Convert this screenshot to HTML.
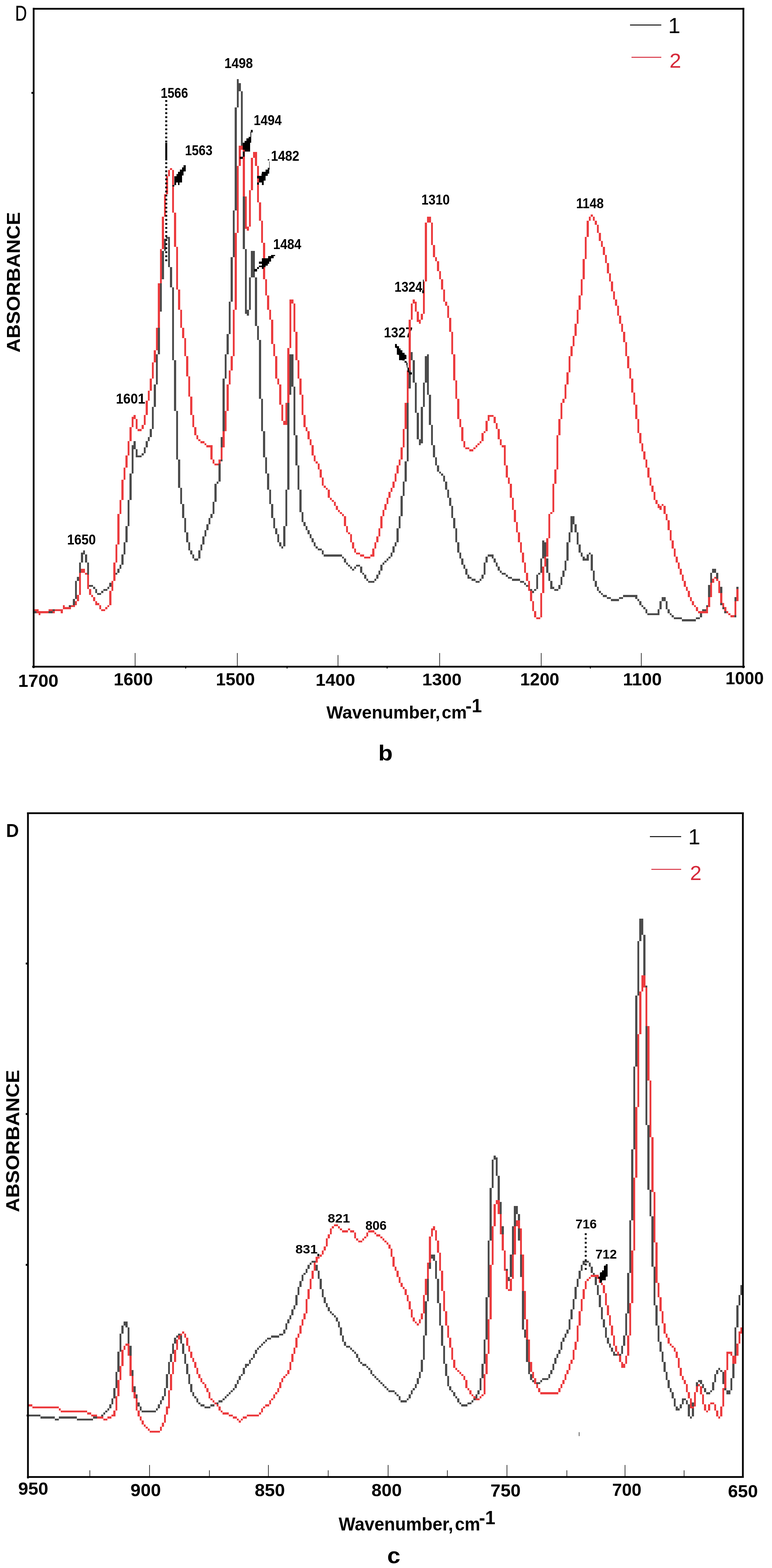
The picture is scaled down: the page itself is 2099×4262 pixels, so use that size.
<!DOCTYPE html>
<html lang="en">
<head>
<meta charset="utf-8">
<title>IR absorbance spectra</title>
<style>
html,body{margin:0;padding:0;background:#fff;}
body{width:2099px;height:4262px;overflow:hidden;}
svg{display:block;font-family:"Liberation Sans",sans-serif;}
</style>
</head>
<body>
<svg width="2099" height="4262" viewBox="0 0 2099 4262">
<rect x="0" y="0" width="2099" height="4262" fill="#fff"/>
<text transform="translate(182.41 1480.10) scale(0.8868 1)" font-size="39.58" font-weight="bold" fill="#000">1650</text>
<text transform="translate(315.16 1096.62) scale(0.9467 1)" font-size="37.88" font-weight="bold" fill="#000">1601</text>
<text transform="translate(436.91 265.61) scale(0.8596 1)" font-size="38.87" font-weight="bold" fill="#000">1566</text>
<text transform="translate(502.89 421.82) scale(0.8763 1)" font-size="38.45" font-weight="bold" fill="#000">1563</text>
<text transform="translate(610.33 185.42) scale(0.9172 1)" font-size="37.88" font-weight="bold" fill="#000">1498</text>
<text transform="translate(689.87 340.31) scale(0.8723 1)" font-size="39.15" font-weight="bold" fill="#000">1494</text>
<text transform="translate(736.63 436.61) scale(0.8921 1)" font-size="38.87" font-weight="bold" fill="#000">1482</text>
<text transform="translate(742.85 677.11) scale(0.8834 1)" font-size="38.87" font-weight="bold" fill="#000">1484</text>
<text transform="translate(1043.80 917.02) scale(0.9084 1)" font-size="38.73" font-weight="bold" fill="#000">1327</text>
<text transform="translate(1072.57 792.81) scale(0.8750 1)" font-size="38.87" font-weight="bold" fill="#000">1324</text>
<text transform="translate(1145.63 555.91) scale(0.8931 1)" font-size="38.87" font-weight="bold" fill="#000">1310</text>
<text transform="translate(1566.44 565.81) scale(0.8890 1)" font-size="38.87" font-weight="bold" fill="#000">1148</text>
<path d="M93.5 1661.0h5.5v5.5h-5.5zM99.0 1661.0h5.5v5.5h-5.5zM104.5 1661.0h5.5v5.5h-5.5zM110.0 1661.0h5.5v5.5h-5.5zM115.5 1661.0h5.5v5.5h-5.5zM121.0 1661.0h5.5v5.5h-5.5zM126.5 1661.0h5.5v5.5h-5.5zM132.0 1661.0h5.5v5.5h-5.5zM137.5 1661.0h5.5v5.5h-5.5zM143.0 1655.5h5.5v5.5h-5.5zM148.5 1655.5h5.5v5.5h-5.5zM154.0 1655.5h5.5v5.5h-5.5zM159.5 1655.5h5.5v5.5h-5.5zM165.0 1655.5h5.5v5.5h-5.5zM170.5 1650.0h5.5v5.5h-5.5zM176.0 1650.0h5.5v5.5h-5.5zM181.5 1650.0h5.5v5.5h-5.5zM187.0 1644.5h5.5v5.5h-5.5zM192.5 1644.5h5.5v5.5h-5.5zM198.0 1628.0h5.5v16.5h-5.5zM203.5 1578.5h5.5v49.5h-5.5zM209.0 1567.5h5.5v11.0h-5.5zM214.5 1529.0h5.5v38.5h-5.5zM220.0 1501.5h5.5v27.5h-5.5zM225.5 1496.0h5.5v11.0h-5.5zM231.0 1507.0h5.5v22.0h-5.5zM236.5 1529.0h5.5v60.5h-5.5zM242.0 1589.5h5.5v5.5h-5.5zM247.5 1589.5h5.5v5.5h-5.5zM253.0 1595.0h5.5v5.5h-5.5zM258.5 1600.5h5.5v11.0h-5.5zM264.0 1611.5h5.5v5.5h-5.5zM269.5 1611.5h5.5v5.5h-5.5zM275.0 1606.0h5.5v5.5h-5.5zM280.5 1600.5h5.5v5.5h-5.5zM286.0 1600.5h5.5v5.5h-5.5zM291.5 1595.0h5.5v5.5h-5.5zM297.0 1584.0h5.5v11.0h-5.5zM302.5 1578.5h5.5v5.5h-5.5zM308.0 1562.0h5.5v16.5h-5.5zM313.5 1556.5h5.5v5.5h-5.5zM319.0 1545.5h5.5v11.0h-5.5zM324.5 1534.5h5.5v11.0h-5.5zM330.0 1507.0h5.5v27.5h-5.5zM335.5 1474.0h5.5v33.0h-5.5zM341.0 1430.0h5.5v44.0h-5.5zM346.5 1358.5h5.5v71.5h-5.5zM352.0 1287.0h5.5v71.5h-5.5zM357.5 1210.0h5.5v77.0h-5.5zM363.0 1199.0h5.5v22.0h-5.5zM368.5 1221.0h5.5v22.0h-5.5zM374.0 1237.5h5.5v5.5h-5.5zM379.5 1237.5h5.5v5.5h-5.5zM385.0 1232.0h5.5v5.5h-5.5zM390.5 1215.5h5.5v16.5h-5.5zM396.0 1199.0h5.5v16.5h-5.5zM401.5 1188.0h5.5v11.0h-5.5zM407.0 1166.0h5.5v22.0h-5.5zM412.5 1105.5h5.5v60.5h-5.5zM418.0 1045.0h5.5v60.5h-5.5zM423.5 962.5h5.5v82.5h-5.5zM429.0 847.0h5.5v115.5h-5.5zM434.5 759.0h5.5v88.0h-5.5zM440.0 682.0h5.5v77.0h-5.5zM445.5 649.0h5.5v33.0h-5.5zM451.0 643.5h5.5v5.5h-5.5zM456.5 643.5h5.5v82.5h-5.5zM462.0 726.0h5.5v55.0h-5.5zM467.5 781.0h5.5v198.0h-5.5zM473.0 979.0h5.5v137.5h-5.5zM478.5 1116.5h5.5v132.0h-5.5zM484.0 1248.5h5.5v77.0h-5.5zM489.5 1325.5h5.5v44.0h-5.5zM495.0 1369.5h5.5v38.5h-5.5zM500.5 1408.0h5.5v38.5h-5.5zM506.0 1446.5h5.5v27.5h-5.5zM511.5 1474.0h5.5v22.0h-5.5zM517.0 1496.0h5.5v11.0h-5.5zM522.5 1507.0h5.5v11.0h-5.5zM528.0 1518.0h5.5v5.5h-5.5zM533.5 1518.0h5.5v5.5h-5.5zM539.0 1496.0h5.5v22.0h-5.5zM544.5 1479.5h5.5v16.5h-5.5zM550.0 1457.5h5.5v22.0h-5.5zM555.5 1441.0h5.5v16.5h-5.5zM561.0 1424.5h5.5v16.5h-5.5zM566.5 1408.0h5.5v16.5h-5.5zM572.0 1397.0h5.5v11.0h-5.5zM577.5 1364.0h5.5v33.0h-5.5zM583.0 1314.5h5.5v49.5h-5.5zM588.5 1309.0h5.5v5.5h-5.5zM594.0 1254.0h5.5v55.0h-5.5zM599.5 1188.0h5.5v66.0h-5.5zM605.0 1028.5h5.5v159.5h-5.5zM610.5 962.5h5.5v66.0h-5.5zM616.0 907.5h5.5v55.0h-5.5zM621.5 819.5h5.5v88.0h-5.5zM627.0 698.5h5.5v121.0h-5.5zM632.5 572.0h5.5v126.5h-5.5zM638.0 291.5h5.5v280.5h-5.5zM643.5 214.5h5.5v77.0h-5.5zM649.0 225.5h5.5v22.0h-5.5zM654.5 247.5h5.5v159.5h-5.5zM660.0 407.0h5.5v269.5h-5.5zM665.5 676.5h5.5v176.0h-5.5zM671.0 841.5h5.5v16.5h-5.5zM676.5 753.5h5.5v88.0h-5.5zM682.0 682.0h5.5v71.5h-5.5zM687.5 682.0h5.5v71.5h-5.5zM693.0 753.5h5.5v132.0h-5.5zM698.5 885.5h5.5v38.5h-5.5zM704.0 924.0h5.5v159.5h-5.5zM709.5 1083.5h5.5v88.0h-5.5zM715.0 1171.5h5.5v71.5h-5.5zM720.5 1243.0h5.5v44.0h-5.5zM726.0 1287.0h5.5v44.0h-5.5zM731.5 1331.0h5.5v38.5h-5.5zM737.0 1369.5h5.5v38.5h-5.5zM742.5 1408.0h5.5v27.5h-5.5zM748.0 1435.5h5.5v16.5h-5.5zM753.5 1452.0h5.5v22.0h-5.5zM759.0 1474.0h5.5v11.0h-5.5zM764.5 1485.0h5.5v5.5h-5.5zM770.0 1430.0h5.5v55.0h-5.5zM775.5 1331.0h5.5v99.0h-5.5zM781.0 1072.5h5.5v258.5h-5.5zM786.5 962.5h5.5v110.0h-5.5zM792.0 962.5h5.5v88.0h-5.5zM797.5 1050.5h5.5v132.0h-5.5zM803.0 1182.5h5.5v82.5h-5.5zM808.5 1265.0h5.5v66.0h-5.5zM814.0 1331.0h5.5v60.5h-5.5zM819.5 1391.5h5.5v27.5h-5.5zM825.0 1419.0h5.5v11.0h-5.5zM830.5 1430.0h5.5v11.0h-5.5zM836.0 1441.0h5.5v11.0h-5.5zM841.5 1452.0h5.5v11.0h-5.5zM847.0 1463.0h5.5v11.0h-5.5zM852.5 1474.0h5.5v11.0h-5.5zM858.0 1485.0h5.5v5.5h-5.5zM863.5 1490.5h5.5v5.5h-5.5zM869.0 1490.5h5.5v5.5h-5.5zM874.5 1496.0h5.5v11.0h-5.5zM880.0 1507.0h5.5v5.5h-5.5zM885.5 1507.0h5.5v5.5h-5.5zM891.0 1507.0h5.5v5.5h-5.5zM896.5 1507.0h5.5v5.5h-5.5zM902.0 1507.0h5.5v5.5h-5.5zM907.5 1507.0h5.5v5.5h-5.5zM913.0 1507.0h5.5v5.5h-5.5zM918.5 1507.0h5.5v5.5h-5.5zM924.0 1507.0h5.5v5.5h-5.5zM929.5 1512.5h5.5v5.5h-5.5zM935.0 1518.0h5.5v11.0h-5.5zM940.5 1529.0h5.5v5.5h-5.5zM946.0 1534.5h5.5v5.5h-5.5zM951.5 1540.0h5.5v5.5h-5.5zM957.0 1545.5h5.5v5.5h-5.5zM962.5 1540.0h5.5v5.5h-5.5zM968.0 1534.5h5.5v5.5h-5.5zM973.5 1534.5h5.5v5.5h-5.5zM979.0 1540.0h5.5v16.5h-5.5zM984.5 1556.5h5.5v5.5h-5.5zM990.0 1562.0h5.5v11.0h-5.5zM995.5 1573.0h5.5v5.5h-5.5zM1001.0 1578.5h5.5v5.5h-5.5zM1006.5 1578.5h5.5v5.5h-5.5zM1012.0 1578.5h5.5v5.5h-5.5zM1017.5 1573.0h5.5v5.5h-5.5zM1023.0 1562.0h5.5v11.0h-5.5zM1028.5 1551.0h5.5v11.0h-5.5zM1034.0 1534.5h5.5v16.5h-5.5zM1039.5 1529.0h5.5v5.5h-5.5zM1045.0 1523.5h5.5v5.5h-5.5zM1050.5 1518.0h5.5v5.5h-5.5zM1056.0 1512.5h5.5v5.5h-5.5zM1061.5 1501.5h5.5v11.0h-5.5zM1067.0 1485.0h5.5v16.5h-5.5zM1072.5 1474.0h5.5v11.0h-5.5zM1078.0 1435.5h5.5v38.5h-5.5zM1083.5 1402.5h5.5v33.0h-5.5zM1089.0 1347.5h5.5v55.0h-5.5zM1094.5 1309.0h5.5v38.5h-5.5zM1100.0 1254.0h5.5v55.0h-5.5zM1105.5 1056.0h5.5v198.0h-5.5zM1111.0 962.5h5.5v93.5h-5.5zM1116.5 957.0h5.5v22.0h-5.5zM1122.0 979.0h5.5v60.5h-5.5zM1127.5 1039.5h5.5v82.5h-5.5zM1133.0 1122.0h5.5v71.5h-5.5zM1138.5 1193.5h5.5v16.5h-5.5zM1144.0 1105.5h5.5v99.0h-5.5zM1149.5 1039.5h5.5v66.0h-5.5zM1155.0 968.0h5.5v71.5h-5.5zM1160.5 962.5h5.5v110.0h-5.5zM1166.0 1072.5h5.5v82.5h-5.5zM1171.5 1155.0h5.5v55.0h-5.5zM1177.0 1210.0h5.5v33.0h-5.5zM1182.5 1243.0h5.5v22.0h-5.5zM1188.0 1265.0h5.5v16.5h-5.5zM1193.5 1281.5h5.5v5.5h-5.5zM1199.0 1287.0h5.5v5.5h-5.5zM1204.5 1292.5h5.5v16.5h-5.5zM1210.0 1309.0h5.5v22.0h-5.5zM1215.5 1331.0h5.5v22.0h-5.5zM1221.0 1353.0h5.5v22.0h-5.5zM1226.5 1375.0h5.5v33.0h-5.5zM1232.0 1408.0h5.5v27.5h-5.5zM1237.5 1435.5h5.5v38.5h-5.5zM1243.0 1474.0h5.5v27.5h-5.5zM1248.5 1501.5h5.5v16.5h-5.5zM1254.0 1518.0h5.5v16.5h-5.5zM1259.5 1534.5h5.5v11.0h-5.5zM1265.0 1545.5h5.5v16.5h-5.5zM1270.5 1562.0h5.5v11.0h-5.5zM1276.0 1567.5h5.5v5.5h-5.5zM1281.5 1573.0h5.5v5.5h-5.5zM1287.0 1573.0h5.5v5.5h-5.5zM1292.5 1578.5h5.5v5.5h-5.5zM1298.0 1578.5h5.5v5.5h-5.5zM1303.5 1573.0h5.5v5.5h-5.5zM1309.0 1562.0h5.5v11.0h-5.5zM1314.5 1529.0h5.5v33.0h-5.5zM1320.0 1512.5h5.5v16.5h-5.5zM1325.5 1507.0h5.5v5.5h-5.5zM1331.0 1507.0h5.5v5.5h-5.5zM1336.5 1507.0h5.5v11.0h-5.5zM1342.0 1518.0h5.5v11.0h-5.5zM1347.5 1529.0h5.5v11.0h-5.5zM1353.0 1540.0h5.5v11.0h-5.5zM1358.5 1551.0h5.5v5.5h-5.5zM1364.0 1556.5h5.5v5.5h-5.5zM1369.5 1556.5h5.5v5.5h-5.5zM1375.0 1562.0h5.5v5.5h-5.5zM1380.5 1567.5h5.5v5.5h-5.5zM1386.0 1567.5h5.5v5.5h-5.5zM1391.5 1573.0h5.5v5.5h-5.5zM1397.0 1573.0h5.5v5.5h-5.5zM1402.5 1573.0h5.5v5.5h-5.5zM1408.0 1573.0h5.5v5.5h-5.5zM1413.5 1578.5h5.5v5.5h-5.5zM1419.0 1578.5h5.5v5.5h-5.5zM1424.5 1584.0h5.5v5.5h-5.5zM1430.0 1589.5h5.5v5.5h-5.5zM1435.5 1595.0h5.5v5.5h-5.5zM1441.0 1600.5h5.5v5.5h-5.5zM1446.5 1606.0h5.5v5.5h-5.5zM1452.0 1600.5h5.5v5.5h-5.5zM1457.5 1562.0h5.5v38.5h-5.5zM1463.0 1556.5h5.5v5.5h-5.5zM1468.5 1518.0h5.5v38.5h-5.5zM1474.0 1468.5h5.5v49.5h-5.5zM1479.5 1474.0h5.5v44.0h-5.5zM1485.0 1518.0h5.5v38.5h-5.5zM1490.5 1556.5h5.5v22.0h-5.5zM1496.0 1578.5h5.5v22.0h-5.5zM1501.5 1595.0h5.5v5.5h-5.5zM1507.0 1600.5h5.5v5.5h-5.5zM1512.5 1600.5h5.5v5.5h-5.5zM1518.0 1589.5h5.5v11.0h-5.5zM1523.5 1567.5h5.5v22.0h-5.5zM1529.0 1551.0h5.5v16.5h-5.5zM1534.5 1523.5h5.5v27.5h-5.5zM1540.0 1474.0h5.5v49.5h-5.5zM1545.5 1446.5h5.5v27.5h-5.5zM1551.0 1402.5h5.5v44.0h-5.5zM1556.5 1402.5h5.5v22.0h-5.5zM1562.0 1424.5h5.5v22.0h-5.5zM1567.5 1446.5h5.5v33.0h-5.5zM1573.0 1479.5h5.5v22.0h-5.5zM1578.5 1501.5h5.5v11.0h-5.5zM1584.0 1512.5h5.5v11.0h-5.5zM1589.5 1518.0h5.5v5.5h-5.5zM1595.0 1507.0h5.5v16.5h-5.5zM1600.5 1501.5h5.5v5.5h-5.5zM1606.0 1507.0h5.5v44.0h-5.5zM1611.5 1551.0h5.5v27.5h-5.5zM1617.0 1578.5h5.5v16.5h-5.5zM1622.5 1595.0h5.5v11.0h-5.5zM1628.0 1606.0h5.5v5.5h-5.5zM1633.5 1611.5h5.5v5.5h-5.5zM1639.0 1617.0h5.5v5.5h-5.5zM1644.5 1617.0h5.5v5.5h-5.5zM1650.0 1622.5h5.5v5.5h-5.5zM1655.5 1622.5h5.5v5.5h-5.5zM1661.0 1628.0h5.5v5.5h-5.5zM1666.5 1628.0h5.5v5.5h-5.5zM1672.0 1628.0h5.5v5.5h-5.5zM1677.5 1628.0h5.5v5.5h-5.5zM1683.0 1622.5h5.5v5.5h-5.5zM1688.5 1622.5h5.5v5.5h-5.5zM1694.0 1617.0h5.5v5.5h-5.5zM1699.5 1617.0h5.5v5.5h-5.5zM1705.0 1617.0h5.5v5.5h-5.5zM1710.5 1617.0h5.5v5.5h-5.5zM1716.0 1617.0h5.5v5.5h-5.5zM1721.5 1617.0h5.5v5.5h-5.5zM1727.0 1617.0h5.5v11.0h-5.5zM1732.5 1628.0h5.5v5.5h-5.5zM1738.0 1633.5h5.5v11.0h-5.5zM1743.5 1644.5h5.5v5.5h-5.5zM1749.0 1650.0h5.5v5.5h-5.5zM1754.5 1655.5h5.5v11.0h-5.5zM1760.0 1666.5h5.5v5.5h-5.5zM1765.5 1666.5h5.5v5.5h-5.5zM1771.0 1666.5h5.5v5.5h-5.5zM1776.5 1666.5h5.5v5.5h-5.5zM1782.0 1666.5h5.5v5.5h-5.5zM1787.5 1655.5h5.5v16.5h-5.5zM1793.0 1633.5h5.5v22.0h-5.5zM1798.5 1622.5h5.5v11.0h-5.5zM1804.0 1622.5h5.5v11.0h-5.5zM1809.5 1633.5h5.5v22.0h-5.5zM1815.0 1655.5h5.5v11.0h-5.5zM1820.5 1666.5h5.5v5.5h-5.5zM1826.0 1672.0h5.5v5.5h-5.5zM1831.5 1677.5h5.5v5.5h-5.5zM1837.0 1677.5h5.5v5.5h-5.5zM1842.5 1677.5h5.5v5.5h-5.5zM1848.0 1677.5h5.5v5.5h-5.5zM1853.5 1683.0h5.5v5.5h-5.5zM1859.0 1683.0h5.5v5.5h-5.5zM1864.5 1683.0h5.5v5.5h-5.5zM1870.0 1683.0h5.5v5.5h-5.5zM1875.5 1683.0h5.5v5.5h-5.5zM1881.0 1683.0h5.5v5.5h-5.5zM1886.5 1683.0h5.5v5.5h-5.5zM1892.0 1677.5h5.5v5.5h-5.5zM1897.5 1677.5h5.5v5.5h-5.5zM1903.0 1661.0h5.5v16.5h-5.5zM1908.5 1655.5h5.5v5.5h-5.5zM1914.0 1655.5h5.5v5.5h-5.5zM1919.5 1644.5h5.5v11.0h-5.5zM1925.0 1589.5h5.5v55.0h-5.5zM1930.5 1556.5h5.5v33.0h-5.5zM1936.0 1545.5h5.5v11.0h-5.5zM1941.5 1545.5h5.5v11.0h-5.5zM1947.0 1556.5h5.5v22.0h-5.5zM1952.5 1578.5h5.5v16.5h-5.5zM1958.0 1595.0h5.5v49.5h-5.5zM1963.5 1644.5h5.5v11.0h-5.5zM1969.0 1655.5h5.5v11.0h-5.5zM1974.5 1661.0h5.5v5.5h-5.5zM1980.0 1666.5h5.5v5.5h-5.5zM1985.5 1672.0h5.5v5.5h-5.5zM1991.0 1672.0h5.5v5.5h-5.5zM1996.5 1622.5h5.5v55.0h-5.5zM2002.0 1595.0h5.5v27.5h-5.5z" fill="#4b4b4b" shape-rendering="crispEdges"/>
<path d="M93.5 1655.5h5.5v5.5h-5.5zM99.0 1655.5h5.5v11.0h-5.5zM104.5 1661.0h5.5v11.0h-5.5zM110.0 1661.0h5.5v5.5h-5.5zM115.5 1661.0h5.5v5.5h-5.5zM121.0 1661.0h5.5v5.5h-5.5zM126.5 1661.0h5.5v5.5h-5.5zM132.0 1655.5h5.5v5.5h-5.5zM137.5 1655.5h5.5v5.5h-5.5zM143.0 1661.0h5.5v5.5h-5.5zM148.5 1655.5h5.5v5.5h-5.5zM154.0 1655.5h5.5v5.5h-5.5zM159.5 1655.5h5.5v5.5h-5.5zM165.0 1655.5h5.5v11.0h-5.5zM170.5 1644.5h5.5v11.0h-5.5zM176.0 1650.0h5.5v5.5h-5.5zM181.5 1650.0h5.5v5.5h-5.5zM187.0 1650.0h5.5v5.5h-5.5zM192.5 1644.5h5.5v5.5h-5.5zM198.0 1644.5h5.5v5.5h-5.5zM203.5 1633.5h5.5v11.0h-5.5zM209.0 1617.0h5.5v16.5h-5.5zM214.5 1556.5h5.5v60.5h-5.5zM220.0 1545.5h5.5v11.0h-5.5zM225.5 1545.5h5.5v11.0h-5.5zM231.0 1556.5h5.5v5.5h-5.5zM236.5 1562.0h5.5v38.5h-5.5zM242.0 1600.5h5.5v16.5h-5.5zM247.5 1617.0h5.5v5.5h-5.5zM253.0 1622.5h5.5v11.0h-5.5zM258.5 1633.5h5.5v11.0h-5.5zM264.0 1639.0h5.5v5.5h-5.5zM269.5 1644.5h5.5v11.0h-5.5zM275.0 1655.5h5.5v5.5h-5.5zM280.5 1655.5h5.5v5.5h-5.5zM286.0 1650.0h5.5v5.5h-5.5zM291.5 1644.5h5.5v5.5h-5.5zM297.0 1606.0h5.5v38.5h-5.5zM302.5 1578.5h5.5v27.5h-5.5zM308.0 1529.0h5.5v49.5h-5.5zM313.5 1479.5h5.5v49.5h-5.5zM319.0 1397.0h5.5v82.5h-5.5zM324.5 1358.5h5.5v38.5h-5.5zM330.0 1303.5h5.5v55.0h-5.5zM335.5 1270.5h5.5v33.0h-5.5zM341.0 1237.5h5.5v33.0h-5.5zM346.5 1199.0h5.5v38.5h-5.5zM352.0 1160.5h5.5v38.5h-5.5zM357.5 1133.0h5.5v27.5h-5.5zM363.0 1127.5h5.5v11.0h-5.5zM368.5 1138.5h5.5v27.5h-5.5zM374.0 1166.0h5.5v5.5h-5.5zM379.5 1166.0h5.5v5.5h-5.5zM385.0 1155.0h5.5v11.0h-5.5zM390.5 1127.5h5.5v27.5h-5.5zM396.0 1089.0h5.5v38.5h-5.5zM401.5 1061.5h5.5v27.5h-5.5zM407.0 1028.5h5.5v33.0h-5.5zM412.5 984.5h5.5v44.0h-5.5zM418.0 951.5h5.5v33.0h-5.5zM423.5 891.0h5.5v60.5h-5.5zM429.0 770.0h5.5v121.0h-5.5zM434.5 676.5h5.5v93.5h-5.5zM440.0 588.5h5.5v88.0h-5.5zM445.5 528.0h5.5v60.5h-5.5zM451.0 478.5h5.5v49.5h-5.5zM456.5 462.0h5.5v16.5h-5.5zM462.0 456.5h5.5v5.5h-5.5zM467.5 462.0h5.5v115.5h-5.5zM473.0 577.5h5.5v93.5h-5.5zM478.5 671.0h5.5v115.5h-5.5zM484.0 786.5h5.5v55.0h-5.5zM489.5 841.5h5.5v49.5h-5.5zM495.0 891.0h5.5v27.5h-5.5zM500.5 918.5h5.5v49.5h-5.5zM506.0 968.0h5.5v55.0h-5.5zM511.5 1023.0h5.5v55.0h-5.5zM517.0 1078.0h5.5v49.5h-5.5zM522.5 1127.5h5.5v33.0h-5.5zM528.0 1160.5h5.5v22.0h-5.5zM533.5 1182.5h5.5v11.0h-5.5zM539.0 1193.5h5.5v5.5h-5.5zM544.5 1199.0h5.5v5.5h-5.5zM550.0 1199.0h5.5v5.5h-5.5zM555.5 1204.5h5.5v5.5h-5.5zM561.0 1210.0h5.5v5.5h-5.5zM566.5 1210.0h5.5v5.5h-5.5zM572.0 1210.0h5.5v38.5h-5.5zM577.5 1248.5h5.5v11.0h-5.5zM583.0 1259.5h5.5v5.5h-5.5zM588.5 1259.5h5.5v5.5h-5.5zM594.0 1248.5h5.5v11.0h-5.5zM599.5 1215.5h5.5v33.0h-5.5zM605.0 1171.5h5.5v44.0h-5.5zM610.5 1116.5h5.5v55.0h-5.5zM616.0 1045.0h5.5v71.5h-5.5zM621.5 1006.5h5.5v38.5h-5.5zM627.0 968.0h5.5v38.5h-5.5zM632.5 841.5h5.5v126.5h-5.5zM638.0 632.5h5.5v209.0h-5.5zM643.5 451.0h5.5v181.5h-5.5zM649.0 396.0h5.5v55.0h-5.5zM654.5 396.0h5.5v11.0h-5.5zM660.0 407.0h5.5v126.5h-5.5zM665.5 533.5h5.5v88.0h-5.5zM671.0 616.0h5.5v11.0h-5.5zM676.5 517.0h5.5v99.0h-5.5zM682.0 429.0h5.5v88.0h-5.5zM687.5 412.5h5.5v16.5h-5.5zM693.0 412.5h5.5v38.5h-5.5zM698.5 451.0h5.5v99.0h-5.5zM704.0 550.0h5.5v49.5h-5.5zM709.5 599.5h5.5v60.5h-5.5zM715.0 660.0h5.5v99.0h-5.5zM720.5 759.0h5.5v44.0h-5.5zM726.0 803.0h5.5v38.5h-5.5zM731.5 841.5h5.5v27.5h-5.5zM737.0 869.0h5.5v66.0h-5.5zM742.5 935.0h5.5v33.0h-5.5zM748.0 968.0h5.5v60.5h-5.5zM753.5 1028.5h5.5v16.5h-5.5zM759.0 1045.0h5.5v55.0h-5.5zM764.5 1100.0h5.5v44.0h-5.5zM770.0 1144.0h5.5v11.0h-5.5zM775.5 1094.5h5.5v60.5h-5.5zM781.0 946.0h5.5v148.5h-5.5zM786.5 814.0h5.5v132.0h-5.5zM792.0 814.0h5.5v11.0h-5.5zM797.5 825.0h5.5v77.0h-5.5zM803.0 902.0h5.5v77.0h-5.5zM808.5 979.0h5.5v49.5h-5.5zM814.0 1028.5h5.5v44.0h-5.5zM819.5 1072.5h5.5v55.0h-5.5zM825.0 1127.5h5.5v33.0h-5.5zM830.5 1160.5h5.5v11.0h-5.5zM836.0 1171.5h5.5v22.0h-5.5zM841.5 1193.5h5.5v16.5h-5.5zM847.0 1210.0h5.5v27.5h-5.5zM852.5 1237.5h5.5v16.5h-5.5zM858.0 1254.0h5.5v5.5h-5.5zM863.5 1259.5h5.5v16.5h-5.5zM869.0 1276.0h5.5v22.0h-5.5zM874.5 1298.0h5.5v22.0h-5.5zM880.0 1320.0h5.5v5.5h-5.5zM885.5 1325.5h5.5v5.5h-5.5zM891.0 1331.0h5.5v22.0h-5.5zM896.5 1353.0h5.5v5.5h-5.5zM902.0 1358.5h5.5v5.5h-5.5zM907.5 1364.0h5.5v11.0h-5.5zM913.0 1375.0h5.5v11.0h-5.5zM918.5 1386.0h5.5v5.5h-5.5zM924.0 1391.5h5.5v5.5h-5.5zM929.5 1397.0h5.5v5.5h-5.5zM935.0 1402.5h5.5v27.5h-5.5zM940.5 1430.0h5.5v16.5h-5.5zM946.0 1446.5h5.5v5.5h-5.5zM951.5 1452.0h5.5v22.0h-5.5zM957.0 1474.0h5.5v16.5h-5.5zM962.5 1490.5h5.5v11.0h-5.5zM968.0 1501.5h5.5v5.5h-5.5zM973.5 1501.5h5.5v5.5h-5.5zM979.0 1507.0h5.5v5.5h-5.5zM984.5 1507.0h5.5v5.5h-5.5zM990.0 1512.5h5.5v5.5h-5.5zM995.5 1512.5h5.5v5.5h-5.5zM1001.0 1512.5h5.5v5.5h-5.5zM1006.5 1507.0h5.5v5.5h-5.5zM1012.0 1490.5h5.5v22.0h-5.5zM1017.5 1474.0h5.5v16.5h-5.5zM1023.0 1457.5h5.5v16.5h-5.5zM1028.5 1435.5h5.5v22.0h-5.5zM1034.0 1402.5h5.5v33.0h-5.5zM1039.5 1386.0h5.5v16.5h-5.5zM1045.0 1369.5h5.5v16.5h-5.5zM1050.5 1353.0h5.5v16.5h-5.5zM1056.0 1336.5h5.5v16.5h-5.5zM1061.5 1325.5h5.5v11.0h-5.5zM1067.0 1309.0h5.5v16.5h-5.5zM1072.5 1287.0h5.5v22.0h-5.5zM1078.0 1265.0h5.5v22.0h-5.5zM1083.5 1248.5h5.5v16.5h-5.5zM1089.0 1215.5h5.5v33.0h-5.5zM1094.5 1166.0h5.5v49.5h-5.5zM1100.0 1094.5h5.5v71.5h-5.5zM1105.5 1006.5h5.5v88.0h-5.5zM1111.0 869.0h5.5v137.5h-5.5zM1116.5 825.0h5.5v44.0h-5.5zM1122.0 814.0h5.5v11.0h-5.5zM1127.5 819.5h5.5v27.5h-5.5zM1133.0 847.0h5.5v27.5h-5.5zM1138.5 869.0h5.5v11.0h-5.5zM1144.0 852.5h5.5v16.5h-5.5zM1149.5 764.5h5.5v88.0h-5.5zM1155.0 605.0h5.5v159.5h-5.5zM1160.5 588.5h5.5v16.5h-5.5zM1166.0 588.5h5.5v16.5h-5.5zM1171.5 605.0h5.5v60.5h-5.5zM1177.0 665.5h5.5v33.0h-5.5zM1182.5 698.5h5.5v11.0h-5.5zM1188.0 709.5h5.5v27.5h-5.5zM1193.5 737.0h5.5v22.0h-5.5zM1199.0 759.0h5.5v27.5h-5.5zM1204.5 786.5h5.5v33.0h-5.5zM1210.0 819.5h5.5v11.0h-5.5zM1215.5 830.5h5.5v33.0h-5.5zM1221.0 863.5h5.5v38.5h-5.5zM1226.5 902.0h5.5v60.5h-5.5zM1232.0 962.5h5.5v71.5h-5.5zM1237.5 1034.0h5.5v49.5h-5.5zM1243.0 1083.5h5.5v55.0h-5.5zM1248.5 1138.5h5.5v22.0h-5.5zM1254.0 1160.5h5.5v38.5h-5.5zM1259.5 1199.0h5.5v16.5h-5.5zM1265.0 1215.5h5.5v5.5h-5.5zM1270.5 1215.5h5.5v5.5h-5.5zM1276.0 1221.0h5.5v5.5h-5.5zM1281.5 1221.0h5.5v5.5h-5.5zM1287.0 1215.5h5.5v5.5h-5.5zM1292.5 1210.0h5.5v5.5h-5.5zM1298.0 1204.5h5.5v5.5h-5.5zM1303.5 1199.0h5.5v5.5h-5.5zM1309.0 1177.0h5.5v22.0h-5.5zM1314.5 1171.5h5.5v5.5h-5.5zM1320.0 1144.0h5.5v27.5h-5.5zM1325.5 1127.5h5.5v16.5h-5.5zM1331.0 1127.5h5.5v5.5h-5.5zM1336.5 1127.5h5.5v5.5h-5.5zM1342.0 1133.0h5.5v16.5h-5.5zM1347.5 1149.5h5.5v16.5h-5.5zM1353.0 1166.0h5.5v27.5h-5.5zM1358.5 1193.5h5.5v16.5h-5.5zM1364.0 1210.0h5.5v5.5h-5.5zM1369.5 1210.0h5.5v55.0h-5.5zM1375.0 1265.0h5.5v33.0h-5.5zM1380.5 1298.0h5.5v16.5h-5.5zM1386.0 1314.5h5.5v38.5h-5.5zM1391.5 1353.0h5.5v33.0h-5.5zM1397.0 1386.0h5.5v33.0h-5.5zM1402.5 1419.0h5.5v27.5h-5.5zM1408.0 1446.5h5.5v27.5h-5.5zM1413.5 1474.0h5.5v27.5h-5.5zM1419.0 1501.5h5.5v27.5h-5.5zM1424.5 1529.0h5.5v27.5h-5.5zM1430.0 1556.5h5.5v22.0h-5.5zM1435.5 1578.5h5.5v27.5h-5.5zM1441.0 1606.0h5.5v27.5h-5.5zM1446.5 1633.5h5.5v27.5h-5.5zM1452.0 1661.0h5.5v16.5h-5.5zM1457.5 1677.5h5.5v5.5h-5.5zM1463.0 1677.5h5.5v5.5h-5.5zM1468.5 1611.5h5.5v66.0h-5.5zM1474.0 1540.0h5.5v71.5h-5.5zM1479.5 1512.5h5.5v27.5h-5.5zM1485.0 1463.0h5.5v49.5h-5.5zM1490.5 1397.0h5.5v66.0h-5.5zM1496.0 1391.5h5.5v5.5h-5.5zM1501.5 1314.5h5.5v77.0h-5.5zM1507.0 1276.0h5.5v38.5h-5.5zM1512.5 1182.5h5.5v93.5h-5.5zM1518.0 1138.5h5.5v44.0h-5.5zM1523.5 1094.5h5.5v44.0h-5.5zM1529.0 1083.5h5.5v11.0h-5.5zM1534.5 1045.0h5.5v38.5h-5.5zM1540.0 1012.0h5.5v33.0h-5.5zM1545.5 968.0h5.5v44.0h-5.5zM1551.0 940.5h5.5v27.5h-5.5zM1556.5 913.0h5.5v27.5h-5.5zM1562.0 880.0h5.5v33.0h-5.5zM1567.5 841.5h5.5v38.5h-5.5zM1573.0 803.0h5.5v38.5h-5.5zM1578.5 759.0h5.5v44.0h-5.5zM1584.0 704.0h5.5v55.0h-5.5zM1589.5 643.5h5.5v60.5h-5.5zM1595.0 599.5h5.5v44.0h-5.5zM1600.5 588.5h5.5v11.0h-5.5zM1606.0 583.0h5.5v5.5h-5.5zM1611.5 588.5h5.5v11.0h-5.5zM1617.0 599.5h5.5v11.0h-5.5zM1622.5 610.5h5.5v22.0h-5.5zM1628.0 632.5h5.5v22.0h-5.5zM1633.5 654.5h5.5v16.5h-5.5zM1639.0 671.0h5.5v22.0h-5.5zM1644.5 693.0h5.5v22.0h-5.5zM1650.0 715.0h5.5v27.5h-5.5zM1655.5 742.5h5.5v22.0h-5.5zM1661.0 764.5h5.5v27.5h-5.5zM1666.5 792.0h5.5v22.0h-5.5zM1672.0 814.0h5.5v16.5h-5.5zM1677.5 830.5h5.5v27.5h-5.5zM1683.0 858.0h5.5v22.0h-5.5zM1688.5 880.0h5.5v22.0h-5.5zM1694.0 902.0h5.5v27.5h-5.5zM1699.5 929.5h5.5v38.5h-5.5zM1705.0 968.0h5.5v33.0h-5.5zM1710.5 1001.0h5.5v27.5h-5.5zM1716.0 1028.5h5.5v38.5h-5.5zM1721.5 1067.0h5.5v33.0h-5.5zM1727.0 1100.0h5.5v38.5h-5.5zM1732.5 1138.5h5.5v38.5h-5.5zM1738.0 1177.0h5.5v27.5h-5.5zM1743.5 1204.5h5.5v22.0h-5.5zM1749.0 1226.5h5.5v22.0h-5.5zM1754.5 1248.5h5.5v22.0h-5.5zM1760.0 1270.5h5.5v27.5h-5.5zM1765.5 1298.0h5.5v22.0h-5.5zM1771.0 1320.0h5.5v16.5h-5.5zM1776.5 1336.5h5.5v22.0h-5.5zM1782.0 1358.5h5.5v11.0h-5.5zM1787.5 1369.5h5.5v11.0h-5.5zM1793.0 1375.0h5.5v11.0h-5.5zM1798.5 1369.5h5.5v5.5h-5.5zM1804.0 1375.0h5.5v22.0h-5.5zM1809.5 1397.0h5.5v16.5h-5.5zM1815.0 1413.5h5.5v27.5h-5.5zM1820.5 1441.0h5.5v27.5h-5.5zM1826.0 1468.5h5.5v22.0h-5.5zM1831.5 1490.5h5.5v22.0h-5.5zM1837.0 1512.5h5.5v16.5h-5.5zM1842.5 1529.0h5.5v16.5h-5.5zM1848.0 1545.5h5.5v16.5h-5.5zM1853.5 1562.0h5.5v16.5h-5.5zM1859.0 1578.5h5.5v16.5h-5.5zM1864.5 1595.0h5.5v11.0h-5.5zM1870.0 1606.0h5.5v16.5h-5.5zM1875.5 1622.5h5.5v11.0h-5.5zM1881.0 1633.5h5.5v11.0h-5.5zM1886.5 1644.5h5.5v5.5h-5.5zM1892.0 1650.0h5.5v11.0h-5.5zM1897.5 1661.0h5.5v5.5h-5.5zM1903.0 1661.0h5.5v5.5h-5.5zM1908.5 1661.0h5.5v5.5h-5.5zM1914.0 1661.0h5.5v5.5h-5.5zM1919.5 1650.0h5.5v16.5h-5.5zM1925.0 1622.5h5.5v27.5h-5.5zM1930.5 1584.0h5.5v38.5h-5.5zM1936.0 1573.0h5.5v11.0h-5.5zM1941.5 1567.5h5.5v5.5h-5.5zM1947.0 1573.0h5.5v5.5h-5.5zM1952.5 1578.5h5.5v33.0h-5.5zM1958.0 1611.5h5.5v27.5h-5.5zM1963.5 1639.0h5.5v11.0h-5.5zM1969.0 1650.0h5.5v11.0h-5.5zM1974.5 1661.0h5.5v5.5h-5.5zM1980.0 1666.5h5.5v5.5h-5.5zM1985.5 1672.0h5.5v5.5h-5.5zM1991.0 1672.0h5.5v5.5h-5.5zM1996.5 1633.5h5.5v38.5h-5.5zM2002.0 1600.5h5.5v33.0h-5.5z" fill="#ec3b3e" shape-rendering="crispEdges"/>
<line x1="91.5" y1="21.400000000000002" x2="91.5" y2="1816.1000000000001" stroke="#000" stroke-width="4.8"/>
<line x1="2021.2" y1="21.400000000000002" x2="2021.2" y2="1816.1000000000001" stroke="#000" stroke-width="4.8"/>
<line x1="89.1" y1="23.8" x2="2023.6000000000001" y2="23.8" stroke="#000" stroke-width="4.8"/>
<line x1="87.6" y1="1812.2" x2="2025.1000000000001" y2="1812.2" stroke="#000" stroke-width="4.8"/>
<line x1="85.5" y1="252.5" x2="91.5" y2="252.5" stroke="#000" stroke-width="5"/>
<line x1="367.4" y1="1775" x2="367.4" y2="1812.2" stroke="#000" stroke-width="1.6"/>
<line x1="645.3" y1="1775" x2="645.3" y2="1812.2" stroke="#000" stroke-width="1.6"/>
<line x1="919" y1="1780.5" x2="919" y2="1812.2" stroke="#000" stroke-width="1.6"/>
<line x1="1195.4" y1="1775" x2="1195.4" y2="1812.2" stroke="#000" stroke-width="1.6"/>
<line x1="1471.5" y1="1775" x2="1471.5" y2="1812.2" stroke="#000" stroke-width="1.6"/>
<line x1="1743.6" y1="1775" x2="1743.6" y2="1812.2" stroke="#000" stroke-width="1.6"/>
<line x1="505" y1="1812.2" x2="505" y2="1817.2" stroke="#000" stroke-width="2.5"/>
<line x1="780.5" y1="1812.2" x2="780.5" y2="1817.2" stroke="#000" stroke-width="2.5"/>
<line x1="1052.5" y1="1812.2" x2="1052.5" y2="1817.2" stroke="#000" stroke-width="2.5"/>
<line x1="1605" y1="1812.2" x2="1605" y2="1817.2" stroke="#000" stroke-width="2.5"/>
<line x1="1713" y1="68" x2="1798" y2="68" stroke="#000" stroke-width="2.4"/>
<line x1="1717" y1="155.7" x2="1798" y2="155.7" stroke="#d62839" stroke-width="2.4"/>
<text transform="translate(1816.71 90.00) scale(1.0000 1)" font-size="59.64" font-weight="normal" fill="#000">1</text>
<text transform="translate(1820.14 184.00) scale(1.0142 1)" font-size="56.34" font-weight="normal" fill="#d62839">2</text>
<text transform="translate(41.15 56.00) scale(0.7677 1)" font-size="57.60" font-weight="normal" fill="#000" stroke="#000" stroke-width="0.6">D</text>
<text transform="translate(53.91 958.33) rotate(-90) scale(1.0866 1)" font-size="49.05" font-weight="bold" fill="#000">ABSORBANCE</text>
<text transform="translate(49.32 1867.01) scale(1.0118 1)" font-size="48.76" font-weight="bold" fill="#000">1700</text>
<text transform="translate(309.00 1863.02) scale(0.9982 1)" font-size="48.06" font-weight="bold" fill="#000">1600</text>
<text transform="translate(587.02 1863.02) scale(0.9914 1)" font-size="48.06" font-weight="bold" fill="#000">1500</text>
<text transform="translate(857.97 1863.53) scale(1.0292 1)" font-size="47.07" font-weight="bold" fill="#000">1400</text>
<text transform="translate(1147.99 1863.41) scale(1.0258 1)" font-size="46.90" font-weight="bold" fill="#000">1300</text>
<text transform="translate(1414.21 1863.22) scale(1.0051 1)" font-size="47.63" font-weight="bold" fill="#000">1200</text>
<text transform="translate(1693.86 1863.22) scale(1.0207 1)" font-size="47.63" font-weight="bold" fill="#000">1100</text>
<text transform="translate(1972.47 1859.92) scale(0.9690 1)" font-size="48.34" font-weight="bold" fill="#000">1000</text>
<line x1="452" y1="272" x2="452" y2="388" stroke="#000" stroke-width="5.4" stroke-dasharray="5 6"/>
<line x1="452" y1="388" x2="452" y2="436" stroke="#000" stroke-width="5.4"/>
<line x1="452" y1="441" x2="452" y2="711" stroke="#000" stroke-width="5.4" stroke-dasharray="5 6"/>
<line x1="1151" y1="760" x2="1151" y2="797" stroke="#000" stroke-width="2"/>
<line x1="1150.3" y1="789" x2="1150.3" y2="797" stroke="#000" stroke-width="4.5"/>
<polygon points="469.4,503.4 474.1,503.4 474.1,479.0 479.6,479.0 479.6,472.7 484.4,472.7 484.4,467.2 489.1,467.2 489.1,460.9 495.4,460.9 495.4,454.6 499.3,454.6 499.3,449.0 504.9,449.0 504.9,466.4 499.3,466.4 499.3,477.4 494.6,477.4 494.6,495.5 488.3,495.5 488.3,502.6 483.6,502.6 483.6,496.3 478.9,496.3 478.9,502.6 474.1,502.6 474.1,507.4 469.4,507.4" fill="#000" shape-rendering="crispEdges"/>
<path d="M682.2 353.4H686.9V359.7H682.2zM680.6 358.1H682.9V372.3H680.6zM676.2 372.3H682.9V376.2H676.2zM670.3 376.2H682.9V382.6H670.3zM665.2 382.6H682.9V388.1H665.2zM660.1 388.1H679.8V407.0H660.1zM665.2 407.0H679.8V411.7H665.2zM660.1 412.1H664.8V425.5H660.1zM652.2 425.5H659.7V431.8H652.2z" fill="#000" shape-rendering="crispEdges"/>
<path d="M727.9 433.4H731.9V435.8H727.9zM731.9 438.5H733.0V461.0H731.9zM728.3 455.5H732.6V461.0H728.3zM722.4 461.0H732.3V467.3H722.4zM712.2 467.3H731.9V472.0H712.2zM711.4 472.0H727.9V477.9H711.4zM699.2 478.3H722.0V485.4H699.2zM703.9 485.4H722.0V490.5H703.9zM703.9 490.5H717.3V495.7H703.9zM712.2 495.7H716.9V502.7H712.2zM699.2 496.0H703.9V502.3H699.2z" fill="#000" shape-rendering="crispEdges"/>
<path d="M737.1 692.9H747.8V696.0H737.1zM728.5 696.0H743.8V701.9H728.5zM712.3 701.9H736.7V711.0H712.3zM704.0 711.0H732.0V716.9H704.0zM711.5 716.9H727.7V722.0H711.5zM704.0 722.0H721.8V725.6H704.0zM712.3 725.6H717.0V730.7H712.3zM699.3 725.9H704.0V730.7H699.3zM691.4 731.1H698.9V737.8H691.4z" fill="#000" shape-rendering="crispEdges"/>
<polygon points="1073.6,935.3 1079.1,935.3 1079.1,940.4 1084.6,941.2 1084.6,946.7 1089.3,946.7 1089.3,952.2 1094.1,952.2 1094.1,958.5 1100.4,959.3 1100.4,964.0 1105.1,964.8 1105.1,975.8 1100.4,976.6 1100.4,980.6 1105.1,980.6 1105.9,986.1 1107.5,986.1 1107.5,998.7 1111.4,999.5 1112.2,1011.3 1120.1,1012.1 1120.1,1017.6 1113.0,1017.6 1113.0,1012.1 1108.3,1011.3 1108.3,999.5 1105.9,998.7 1105.1,986.1 1100.4,986.1 1099.6,979.8 1085.4,979.0 1085.4,964.8 1079.1,964.0 1079.1,945.9 1073.6,945.1" fill="#000" shape-rendering="crispEdges"/>
<text transform="translate(887.50 1952.80) scale(0.9911 1)" font-size="48.29" font-weight="bold">Wavenumber,</text>
<text transform="translate(1201.11 1952.80) scale(0.9764 1)" font-size="48.29" font-weight="bold">cm</text>
<text transform="translate(1265.81 1935.80) scale(0.9706 1)" font-size="51.35" font-weight="bold">-1</text>
<text transform="translate(1028.43 2067.40) scale(1.0669 1)" font-size="60.14" font-weight="bold" fill="#000">b</text>
<text transform="translate(803.23 3406.88) scale(1.0683 1)" font-size="33.80" font-weight="bold" fill="#000">831</text>
<text transform="translate(891.12 3323.26) scale(1.0751 1)" font-size="33.78" font-weight="bold" fill="#000">821</text>
<text transform="translate(993.58 3342.66) scale(1.0086 1)" font-size="34.20" font-weight="bold" fill="#000">806</text>
<text transform="translate(1564.72 3339.06) scale(1.0067 1)" font-size="34.49" font-weight="bold" fill="#000">716</text>
<text transform="translate(1618.91 3420.70) scale(1.0076 1)" font-size="34.70" font-weight="bold" fill="#000">712</text>
<path d="M71.5 3844.5h5.5v5.5h-5.5zM77.0 3844.5h5.5v5.5h-5.5zM82.5 3844.5h5.5v5.5h-5.5zM88.0 3844.5h5.5v5.5h-5.5zM93.5 3844.5h5.5v5.5h-5.5zM99.0 3844.5h5.5v5.5h-5.5zM104.5 3844.5h5.5v5.5h-5.5zM110.0 3850.0h5.5v5.5h-5.5zM115.5 3850.0h5.5v5.5h-5.5zM121.0 3850.0h5.5v5.5h-5.5zM126.5 3850.0h5.5v5.5h-5.5zM132.0 3850.0h5.5v5.5h-5.5zM137.5 3850.0h5.5v5.5h-5.5zM143.0 3850.0h5.5v5.5h-5.5zM148.5 3855.5h5.5v5.5h-5.5zM154.0 3855.5h5.5v5.5h-5.5zM159.5 3850.0h5.5v5.5h-5.5zM165.0 3850.0h5.5v5.5h-5.5zM170.5 3850.0h5.5v5.5h-5.5zM176.0 3850.0h5.5v5.5h-5.5zM181.5 3850.0h5.5v5.5h-5.5zM187.0 3850.0h5.5v5.5h-5.5zM192.5 3850.0h5.5v5.5h-5.5zM198.0 3850.0h5.5v5.5h-5.5zM203.5 3850.0h5.5v5.5h-5.5zM209.0 3855.5h5.5v5.5h-5.5zM214.5 3855.5h5.5v5.5h-5.5zM220.0 3855.5h5.5v5.5h-5.5zM225.5 3855.5h5.5v5.5h-5.5zM231.0 3855.5h5.5v5.5h-5.5zM236.5 3855.5h5.5v5.5h-5.5zM242.0 3855.5h5.5v5.5h-5.5zM247.5 3855.5h5.5v5.5h-5.5zM253.0 3850.0h5.5v5.5h-5.5zM258.5 3850.0h5.5v5.5h-5.5zM264.0 3850.0h5.5v5.5h-5.5zM269.5 3850.0h5.5v5.5h-5.5zM275.0 3844.5h5.5v5.5h-5.5zM280.5 3839.0h5.5v5.5h-5.5zM286.0 3833.5h5.5v5.5h-5.5zM291.5 3828.0h5.5v5.5h-5.5zM297.0 3817.0h5.5v11.0h-5.5zM302.5 3800.5h5.5v16.5h-5.5zM308.0 3773.0h5.5v27.5h-5.5zM313.5 3729.0h5.5v44.0h-5.5zM319.0 3674.0h5.5v55.0h-5.5zM324.5 3624.5h5.5v49.5h-5.5zM330.0 3602.5h5.5v22.0h-5.5zM335.5 3591.5h5.5v11.0h-5.5zM341.0 3591.5h5.5v16.5h-5.5zM346.5 3608.0h5.5v49.5h-5.5zM352.0 3657.5h5.5v66.0h-5.5zM357.5 3723.5h5.5v44.0h-5.5zM363.0 3767.5h5.5v22.0h-5.5zM368.5 3789.5h5.5v22.0h-5.5zM374.0 3811.5h5.5v11.0h-5.5zM379.5 3822.5h5.5v11.0h-5.5zM385.0 3833.5h5.5v5.5h-5.5zM390.5 3833.5h5.5v5.5h-5.5zM396.0 3833.5h5.5v5.5h-5.5zM401.5 3833.5h5.5v5.5h-5.5zM407.0 3833.5h5.5v5.5h-5.5zM412.5 3833.5h5.5v5.5h-5.5zM418.0 3833.5h5.5v5.5h-5.5zM423.5 3828.0h5.5v5.5h-5.5zM429.0 3817.0h5.5v11.0h-5.5zM434.5 3806.0h5.5v11.0h-5.5zM440.0 3795.0h5.5v11.0h-5.5zM445.5 3773.0h5.5v22.0h-5.5zM451.0 3734.5h5.5v38.5h-5.5zM456.5 3701.5h5.5v33.0h-5.5zM462.0 3679.5h5.5v22.0h-5.5zM467.5 3652.0h5.5v27.5h-5.5zM473.0 3635.5h5.5v16.5h-5.5zM478.5 3630.0h5.5v5.5h-5.5zM484.0 3624.5h5.5v5.5h-5.5zM489.5 3624.5h5.5v27.5h-5.5zM495.0 3652.0h5.5v27.5h-5.5zM500.5 3679.5h5.5v27.5h-5.5zM506.0 3707.0h5.5v27.5h-5.5zM511.5 3734.5h5.5v27.5h-5.5zM517.0 3762.0h5.5v22.0h-5.5zM522.5 3784.0h5.5v11.0h-5.5zM528.0 3795.0h5.5v5.5h-5.5zM533.5 3800.5h5.5v11.0h-5.5zM539.0 3811.5h5.5v5.5h-5.5zM544.5 3817.0h5.5v5.5h-5.5zM550.0 3817.0h5.5v5.5h-5.5zM555.5 3822.5h5.5v5.5h-5.5zM561.0 3822.5h5.5v5.5h-5.5zM566.5 3822.5h5.5v5.5h-5.5zM572.0 3817.0h5.5v5.5h-5.5zM577.5 3817.0h5.5v5.5h-5.5zM583.0 3811.5h5.5v5.5h-5.5zM588.5 3811.5h5.5v5.5h-5.5zM594.0 3806.0h5.5v5.5h-5.5zM599.5 3806.0h5.5v5.5h-5.5zM605.0 3800.5h5.5v5.5h-5.5zM610.5 3795.0h5.5v5.5h-5.5zM616.0 3789.5h5.5v5.5h-5.5zM621.5 3784.0h5.5v5.5h-5.5zM627.0 3778.5h5.5v5.5h-5.5zM632.5 3773.0h5.5v5.5h-5.5zM638.0 3762.0h5.5v11.0h-5.5zM643.5 3751.0h5.5v11.0h-5.5zM649.0 3740.0h5.5v11.0h-5.5zM654.5 3734.5h5.5v5.5h-5.5zM660.0 3718.0h5.5v16.5h-5.5zM665.5 3707.0h5.5v11.0h-5.5zM671.0 3707.0h5.5v5.5h-5.5zM676.5 3696.0h5.5v11.0h-5.5zM682.0 3690.5h5.5v5.5h-5.5zM687.5 3679.5h5.5v11.0h-5.5zM693.0 3668.5h5.5v11.0h-5.5zM698.5 3663.0h5.5v5.5h-5.5zM704.0 3657.5h5.5v5.5h-5.5zM709.5 3652.0h5.5v5.5h-5.5zM715.0 3646.5h5.5v5.5h-5.5zM720.5 3641.0h5.5v5.5h-5.5zM726.0 3635.5h5.5v5.5h-5.5zM731.5 3635.5h5.5v5.5h-5.5zM737.0 3630.0h5.5v5.5h-5.5zM742.5 3630.0h5.5v5.5h-5.5zM748.0 3630.0h5.5v5.5h-5.5zM753.5 3630.0h5.5v5.5h-5.5zM759.0 3624.5h5.5v5.5h-5.5zM764.5 3624.5h5.5v5.5h-5.5zM770.0 3613.5h5.5v11.0h-5.5zM775.5 3597.0h5.5v16.5h-5.5zM781.0 3586.0h5.5v11.0h-5.5zM786.5 3575.0h5.5v11.0h-5.5zM792.0 3558.5h5.5v16.5h-5.5zM797.5 3547.5h5.5v11.0h-5.5zM803.0 3520.0h5.5v27.5h-5.5zM808.5 3498.0h5.5v22.0h-5.5zM814.0 3481.5h5.5v16.5h-5.5zM819.5 3465.0h5.5v16.5h-5.5zM825.0 3459.5h5.5v5.5h-5.5zM830.5 3448.5h5.5v11.0h-5.5zM836.0 3437.5h5.5v11.0h-5.5zM841.5 3432.0h5.5v5.5h-5.5zM847.0 3426.5h5.5v5.5h-5.5zM852.5 3426.5h5.5v11.0h-5.5zM858.0 3437.5h5.5v16.5h-5.5zM863.5 3454.0h5.5v22.0h-5.5zM869.0 3476.0h5.5v27.5h-5.5zM874.5 3503.5h5.5v22.0h-5.5zM880.0 3525.5h5.5v16.5h-5.5zM885.5 3542.0h5.5v11.0h-5.5zM891.0 3553.0h5.5v11.0h-5.5zM896.5 3564.0h5.5v5.5h-5.5zM902.0 3569.5h5.5v5.5h-5.5zM907.5 3575.0h5.5v5.5h-5.5zM913.0 3580.5h5.5v11.0h-5.5zM918.5 3591.5h5.5v16.5h-5.5zM924.0 3608.0h5.5v22.0h-5.5zM929.5 3630.0h5.5v16.5h-5.5zM935.0 3646.5h5.5v11.0h-5.5zM940.5 3657.5h5.5v5.5h-5.5zM946.0 3657.5h5.5v5.5h-5.5zM951.5 3663.0h5.5v5.5h-5.5zM957.0 3668.5h5.5v5.5h-5.5zM962.5 3674.0h5.5v5.5h-5.5zM968.0 3679.5h5.5v11.0h-5.5zM973.5 3690.5h5.5v11.0h-5.5zM979.0 3701.5h5.5v5.5h-5.5zM984.5 3707.0h5.5v5.5h-5.5zM990.0 3707.0h5.5v5.5h-5.5zM995.5 3712.5h5.5v5.5h-5.5zM1001.0 3718.0h5.5v5.5h-5.5zM1006.5 3723.5h5.5v11.0h-5.5zM1012.0 3734.5h5.5v5.5h-5.5zM1017.5 3740.0h5.5v5.5h-5.5zM1023.0 3745.5h5.5v5.5h-5.5zM1028.5 3751.0h5.5v5.5h-5.5zM1034.0 3756.5h5.5v5.5h-5.5zM1039.5 3762.0h5.5v5.5h-5.5zM1045.0 3767.5h5.5v5.5h-5.5zM1050.5 3773.0h5.5v5.5h-5.5zM1056.0 3778.5h5.5v5.5h-5.5zM1061.5 3778.5h5.5v5.5h-5.5zM1067.0 3778.5h5.5v5.5h-5.5zM1072.5 3784.0h5.5v5.5h-5.5zM1078.0 3789.5h5.5v5.5h-5.5zM1083.5 3795.0h5.5v11.0h-5.5zM1089.0 3806.0h5.5v5.5h-5.5zM1094.5 3806.0h5.5v5.5h-5.5zM1100.0 3806.0h5.5v5.5h-5.5zM1105.5 3800.5h5.5v5.5h-5.5zM1111.0 3789.5h5.5v11.0h-5.5zM1116.5 3778.5h5.5v11.0h-5.5zM1122.0 3773.0h5.5v5.5h-5.5zM1127.5 3762.0h5.5v11.0h-5.5zM1133.0 3745.5h5.5v16.5h-5.5zM1138.5 3729.0h5.5v16.5h-5.5zM1144.0 3696.0h5.5v33.0h-5.5zM1149.5 3630.0h5.5v66.0h-5.5zM1155.0 3536.5h5.5v93.5h-5.5zM1160.5 3448.5h5.5v88.0h-5.5zM1166.0 3421.0h5.5v27.5h-5.5zM1171.5 3410.0h5.5v11.0h-5.5zM1177.0 3410.0h5.5v16.5h-5.5zM1182.5 3426.5h5.5v49.5h-5.5zM1188.0 3476.0h5.5v66.0h-5.5zM1193.5 3542.0h5.5v60.5h-5.5zM1199.0 3602.5h5.5v55.0h-5.5zM1204.5 3657.5h5.5v49.5h-5.5zM1210.0 3707.0h5.5v33.0h-5.5zM1215.5 3740.0h5.5v27.5h-5.5zM1221.0 3767.5h5.5v11.0h-5.5zM1226.5 3778.5h5.5v5.5h-5.5zM1232.0 3784.0h5.5v11.0h-5.5zM1237.5 3795.0h5.5v5.5h-5.5zM1243.0 3800.5h5.5v11.0h-5.5zM1248.5 3811.5h5.5v5.5h-5.5zM1254.0 3817.0h5.5v5.5h-5.5zM1259.5 3817.0h5.5v5.5h-5.5zM1265.0 3817.0h5.5v5.5h-5.5zM1270.5 3811.5h5.5v5.5h-5.5zM1276.0 3811.5h5.5v5.5h-5.5zM1281.5 3806.0h5.5v5.5h-5.5zM1287.0 3800.5h5.5v5.5h-5.5zM1292.5 3789.5h5.5v11.0h-5.5zM1298.0 3778.5h5.5v11.0h-5.5zM1303.5 3745.5h5.5v33.0h-5.5zM1309.0 3707.0h5.5v38.5h-5.5zM1314.5 3641.0h5.5v66.0h-5.5zM1320.0 3525.5h5.5v115.5h-5.5zM1325.5 3371.5h5.5v154.0h-5.5zM1331.0 3228.5h5.5v143.0h-5.5zM1336.5 3151.5h5.5v77.0h-5.5zM1342.0 3140.5h5.5v11.0h-5.5zM1347.5 3146.0h5.5v49.5h-5.5zM1353.0 3195.5h5.5v71.5h-5.5zM1358.5 3267.0h5.5v66.0h-5.5zM1364.0 3333.0h5.5v66.0h-5.5zM1369.5 3399.0h5.5v49.5h-5.5zM1375.0 3448.5h5.5v27.5h-5.5zM1380.5 3470.5h5.5v11.0h-5.5zM1386.0 3410.0h5.5v60.5h-5.5zM1391.5 3333.0h5.5v77.0h-5.5zM1397.0 3278.0h5.5v55.0h-5.5zM1402.5 3278.0h5.5v22.0h-5.5zM1408.0 3300.0h5.5v71.5h-5.5zM1413.5 3371.5h5.5v99.0h-5.5zM1419.0 3470.5h5.5v143.0h-5.5zM1424.5 3613.5h5.5v22.0h-5.5zM1430.0 3635.5h5.5v66.0h-5.5zM1435.5 3701.5h5.5v33.0h-5.5zM1441.0 3734.5h5.5v16.5h-5.5zM1446.5 3751.0h5.5v5.5h-5.5zM1452.0 3756.5h5.5v5.5h-5.5zM1457.5 3756.5h5.5v5.5h-5.5zM1463.0 3756.5h5.5v5.5h-5.5zM1468.5 3751.0h5.5v5.5h-5.5zM1474.0 3745.5h5.5v5.5h-5.5zM1479.5 3745.5h5.5v5.5h-5.5zM1485.0 3745.5h5.5v5.5h-5.5zM1490.5 3734.5h5.5v11.0h-5.5zM1496.0 3723.5h5.5v11.0h-5.5zM1501.5 3707.0h5.5v16.5h-5.5zM1507.0 3690.5h5.5v16.5h-5.5zM1512.5 3679.5h5.5v11.0h-5.5zM1518.0 3668.5h5.5v11.0h-5.5zM1523.5 3646.5h5.5v22.0h-5.5zM1529.0 3635.5h5.5v11.0h-5.5zM1534.5 3624.5h5.5v11.0h-5.5zM1540.0 3613.5h5.5v11.0h-5.5zM1545.5 3586.0h5.5v27.5h-5.5zM1551.0 3558.5h5.5v27.5h-5.5zM1556.5 3531.0h5.5v27.5h-5.5zM1562.0 3498.0h5.5v33.0h-5.5zM1567.5 3476.0h5.5v22.0h-5.5zM1573.0 3454.0h5.5v22.0h-5.5zM1578.5 3437.5h5.5v16.5h-5.5zM1584.0 3426.5h5.5v11.0h-5.5zM1589.5 3426.5h5.5v5.5h-5.5zM1595.0 3426.5h5.5v5.5h-5.5zM1600.5 3432.0h5.5v11.0h-5.5zM1606.0 3443.0h5.5v16.5h-5.5zM1611.5 3459.5h5.5v11.0h-5.5zM1617.0 3470.5h5.5v22.0h-5.5zM1622.5 3492.5h5.5v27.5h-5.5zM1628.0 3520.0h5.5v33.0h-5.5zM1633.5 3553.0h5.5v33.0h-5.5zM1639.0 3586.0h5.5v22.0h-5.5zM1644.5 3608.0h5.5v27.5h-5.5zM1650.0 3635.5h5.5v16.5h-5.5zM1655.5 3652.0h5.5v11.0h-5.5zM1661.0 3663.0h5.5v11.0h-5.5zM1666.5 3674.0h5.5v11.0h-5.5zM1672.0 3679.5h5.5v5.5h-5.5zM1677.5 3679.5h5.5v5.5h-5.5zM1683.0 3679.5h5.5v5.5h-5.5zM1688.5 3657.5h5.5v22.0h-5.5zM1694.0 3630.0h5.5v27.5h-5.5zM1699.5 3569.5h5.5v60.5h-5.5zM1705.0 3459.5h5.5v110.0h-5.5zM1710.5 3316.5h5.5v143.0h-5.5zM1716.0 3124.0h5.5v192.5h-5.5zM1721.5 2898.5h5.5v225.5h-5.5zM1727.0 2706.0h5.5v192.5h-5.5zM1732.5 2557.5h5.5v148.5h-5.5zM1738.0 2497.0h5.5v60.5h-5.5zM1743.5 2497.0h5.5v44.0h-5.5zM1749.0 2541.0h5.5v137.5h-5.5zM1754.5 2678.5h5.5v379.5h-5.5zM1760.0 3058.0h5.5v176.0h-5.5zM1765.5 3234.0h5.5v71.5h-5.5zM1771.0 3305.5h5.5v137.5h-5.5zM1776.5 3443.0h5.5v104.5h-5.5zM1782.0 3547.5h5.5v55.0h-5.5zM1787.5 3602.5h5.5v44.0h-5.5zM1793.0 3646.5h5.5v27.5h-5.5zM1798.5 3674.0h5.5v27.5h-5.5zM1804.0 3701.5h5.5v27.5h-5.5zM1809.5 3729.0h5.5v22.0h-5.5zM1815.0 3751.0h5.5v22.0h-5.5zM1820.5 3773.0h5.5v11.0h-5.5zM1826.0 3784.0h5.5v16.5h-5.5zM1831.5 3800.5h5.5v22.0h-5.5zM1837.0 3822.5h5.5v11.0h-5.5zM1842.5 3828.0h5.5v5.5h-5.5zM1848.0 3817.0h5.5v11.0h-5.5zM1853.5 3800.5h5.5v16.5h-5.5zM1859.0 3800.5h5.5v5.5h-5.5zM1864.5 3806.0h5.5v11.0h-5.5zM1870.0 3817.0h5.5v33.0h-5.5zM1875.5 3850.0h5.5v5.5h-5.5zM1881.0 3811.5h5.5v38.5h-5.5zM1886.5 3784.0h5.5v27.5h-5.5zM1892.0 3756.5h5.5v27.5h-5.5zM1897.5 3751.0h5.5v5.5h-5.5zM1903.0 3751.0h5.5v11.0h-5.5zM1908.5 3762.0h5.5v11.0h-5.5zM1914.0 3773.0h5.5v11.0h-5.5zM1919.5 3784.0h5.5v5.5h-5.5zM1925.0 3784.0h5.5v5.5h-5.5zM1930.5 3778.5h5.5v5.5h-5.5zM1936.0 3756.5h5.5v22.0h-5.5zM1941.5 3734.5h5.5v22.0h-5.5zM1947.0 3723.5h5.5v11.0h-5.5zM1952.5 3718.0h5.5v5.5h-5.5zM1958.0 3723.5h5.5v5.5h-5.5zM1963.5 3729.0h5.5v33.0h-5.5zM1969.0 3762.0h5.5v16.5h-5.5zM1974.5 3778.5h5.5v11.0h-5.5zM1980.0 3778.5h5.5v11.0h-5.5zM1985.5 3745.5h5.5v33.0h-5.5zM1991.0 3685.0h5.5v60.5h-5.5zM1996.5 3608.0h5.5v77.0h-5.5zM2002.0 3547.5h5.5v60.5h-5.5zM2007.5 3520.0h5.5v27.5h-5.5zM2013.0 3492.5h5.5v27.5h-5.5z" fill="#4b4b4b" shape-rendering="crispEdges"/>
<path d="M77.0 3817.0h5.5v5.5h-5.5zM82.5 3817.0h5.5v5.5h-5.5zM88.0 3822.5h5.5v5.5h-5.5zM93.5 3822.5h5.5v5.5h-5.5zM99.0 3822.5h5.5v5.5h-5.5zM104.5 3822.5h5.5v5.5h-5.5zM110.0 3822.5h5.5v5.5h-5.5zM115.5 3822.5h5.5v5.5h-5.5zM121.0 3822.5h5.5v5.5h-5.5zM126.5 3822.5h5.5v5.5h-5.5zM132.0 3822.5h5.5v5.5h-5.5zM137.5 3822.5h5.5v5.5h-5.5zM143.0 3822.5h5.5v5.5h-5.5zM148.5 3822.5h5.5v5.5h-5.5zM154.0 3822.5h5.5v5.5h-5.5zM159.5 3828.0h5.5v5.5h-5.5zM165.0 3833.5h5.5v5.5h-5.5zM170.5 3833.5h5.5v5.5h-5.5zM176.0 3833.5h5.5v5.5h-5.5zM181.5 3833.5h5.5v5.5h-5.5zM187.0 3833.5h5.5v5.5h-5.5zM192.5 3833.5h5.5v5.5h-5.5zM198.0 3833.5h5.5v5.5h-5.5zM203.5 3833.5h5.5v5.5h-5.5zM209.0 3833.5h5.5v5.5h-5.5zM214.5 3833.5h5.5v5.5h-5.5zM220.0 3833.5h5.5v5.5h-5.5zM225.5 3833.5h5.5v5.5h-5.5zM231.0 3833.5h5.5v5.5h-5.5zM236.5 3839.0h5.5v5.5h-5.5zM242.0 3839.0h5.5v5.5h-5.5zM247.5 3844.5h5.5v5.5h-5.5zM253.0 3844.5h5.5v5.5h-5.5zM258.5 3844.5h5.5v5.5h-5.5zM264.0 3850.0h5.5v5.5h-5.5zM269.5 3850.0h5.5v5.5h-5.5zM275.0 3850.0h5.5v5.5h-5.5zM280.5 3855.5h5.5v5.5h-5.5zM286.0 3855.5h5.5v5.5h-5.5zM291.5 3850.0h5.5v5.5h-5.5zM297.0 3850.0h5.5v5.5h-5.5zM302.5 3844.5h5.5v5.5h-5.5zM308.0 3833.5h5.5v16.5h-5.5zM313.5 3795.0h5.5v38.5h-5.5zM319.0 3751.0h5.5v44.0h-5.5zM324.5 3712.5h5.5v38.5h-5.5zM330.0 3668.5h5.5v44.0h-5.5zM335.5 3657.5h5.5v11.0h-5.5zM341.0 3652.0h5.5v5.5h-5.5zM346.5 3652.0h5.5v33.0h-5.5zM352.0 3685.0h5.5v55.0h-5.5zM357.5 3740.0h5.5v44.0h-5.5zM363.0 3784.0h5.5v16.5h-5.5zM368.5 3800.5h5.5v33.0h-5.5zM374.0 3833.5h5.5v16.5h-5.5zM379.5 3850.0h5.5v11.0h-5.5zM385.0 3861.0h5.5v11.0h-5.5zM390.5 3872.0h5.5v5.5h-5.5zM396.0 3877.5h5.5v5.5h-5.5zM401.5 3883.0h5.5v5.5h-5.5zM407.0 3888.5h5.5v5.5h-5.5zM412.5 3888.5h5.5v5.5h-5.5zM418.0 3888.5h5.5v5.5h-5.5zM423.5 3888.5h5.5v5.5h-5.5zM429.0 3888.5h5.5v5.5h-5.5zM434.5 3877.5h5.5v11.0h-5.5zM440.0 3866.5h5.5v11.0h-5.5zM445.5 3844.5h5.5v22.0h-5.5zM451.0 3822.5h5.5v22.0h-5.5zM456.5 3778.5h5.5v49.5h-5.5zM462.0 3734.5h5.5v44.0h-5.5zM467.5 3701.5h5.5v33.0h-5.5zM473.0 3668.5h5.5v33.0h-5.5zM478.5 3641.0h5.5v27.5h-5.5zM484.0 3630.0h5.5v11.0h-5.5zM489.5 3624.5h5.5v5.5h-5.5zM495.0 3619.0h5.5v5.5h-5.5zM500.5 3624.5h5.5v11.0h-5.5zM506.0 3635.5h5.5v22.0h-5.5zM511.5 3657.5h5.5v16.5h-5.5zM517.0 3674.0h5.5v16.5h-5.5zM522.5 3690.5h5.5v11.0h-5.5zM528.0 3701.5h5.5v16.5h-5.5zM533.5 3718.0h5.5v16.5h-5.5zM539.0 3734.5h5.5v11.0h-5.5zM544.5 3745.5h5.5v11.0h-5.5zM550.0 3756.5h5.5v5.5h-5.5zM555.5 3762.0h5.5v11.0h-5.5zM561.0 3773.0h5.5v11.0h-5.5zM566.5 3784.0h5.5v16.5h-5.5zM572.0 3800.5h5.5v5.5h-5.5zM577.5 3806.0h5.5v5.5h-5.5zM583.0 3811.5h5.5v5.5h-5.5zM588.5 3817.0h5.5v5.5h-5.5zM594.0 3822.5h5.5v11.0h-5.5zM599.5 3833.5h5.5v5.5h-5.5zM605.0 3839.0h5.5v5.5h-5.5zM610.5 3839.0h5.5v5.5h-5.5zM616.0 3839.0h5.5v5.5h-5.5zM621.5 3844.5h5.5v5.5h-5.5zM627.0 3844.5h5.5v5.5h-5.5zM632.5 3850.0h5.5v5.5h-5.5zM638.0 3850.0h5.5v5.5h-5.5zM643.5 3855.5h5.5v5.5h-5.5zM649.0 3861.0h5.5v5.5h-5.5zM654.5 3855.5h5.5v5.5h-5.5zM660.0 3850.0h5.5v5.5h-5.5zM665.5 3850.0h5.5v5.5h-5.5zM671.0 3844.5h5.5v5.5h-5.5zM676.5 3844.5h5.5v5.5h-5.5zM682.0 3844.5h5.5v5.5h-5.5zM687.5 3844.5h5.5v5.5h-5.5zM693.0 3844.5h5.5v5.5h-5.5zM698.5 3844.5h5.5v5.5h-5.5zM704.0 3839.0h5.5v5.5h-5.5zM709.5 3828.0h5.5v11.0h-5.5zM715.0 3822.5h5.5v5.5h-5.5zM720.5 3817.0h5.5v5.5h-5.5zM726.0 3817.0h5.5v5.5h-5.5zM731.5 3806.0h5.5v11.0h-5.5zM737.0 3800.5h5.5v5.5h-5.5zM742.5 3789.5h5.5v11.0h-5.5zM748.0 3784.0h5.5v5.5h-5.5zM753.5 3773.0h5.5v11.0h-5.5zM759.0 3756.5h5.5v16.5h-5.5zM764.5 3745.5h5.5v11.0h-5.5zM770.0 3740.0h5.5v5.5h-5.5zM775.5 3734.5h5.5v5.5h-5.5zM781.0 3723.5h5.5v11.0h-5.5zM786.5 3701.5h5.5v22.0h-5.5zM792.0 3679.5h5.5v22.0h-5.5zM797.5 3663.0h5.5v16.5h-5.5zM803.0 3635.5h5.5v27.5h-5.5zM808.5 3624.5h5.5v11.0h-5.5zM814.0 3602.5h5.5v22.0h-5.5zM819.5 3586.0h5.5v16.5h-5.5zM825.0 3569.5h5.5v16.5h-5.5zM830.5 3531.0h5.5v38.5h-5.5zM836.0 3503.5h5.5v27.5h-5.5zM841.5 3476.0h5.5v27.5h-5.5zM847.0 3454.0h5.5v22.0h-5.5zM852.5 3432.0h5.5v22.0h-5.5zM858.0 3415.5h5.5v16.5h-5.5zM863.5 3415.5h5.5v5.5h-5.5zM869.0 3410.0h5.5v5.5h-5.5zM874.5 3399.0h5.5v11.0h-5.5zM880.0 3388.0h5.5v11.0h-5.5zM885.5 3366.0h5.5v22.0h-5.5zM891.0 3355.0h5.5v11.0h-5.5zM896.5 3338.5h5.5v16.5h-5.5zM902.0 3333.0h5.5v5.5h-5.5zM907.5 3327.5h5.5v5.5h-5.5zM913.0 3327.5h5.5v5.5h-5.5zM918.5 3333.0h5.5v5.5h-5.5zM924.0 3338.5h5.5v5.5h-5.5zM929.5 3344.0h5.5v5.5h-5.5zM935.0 3344.0h5.5v5.5h-5.5zM940.5 3344.0h5.5v5.5h-5.5zM946.0 3338.5h5.5v5.5h-5.5zM951.5 3344.0h5.5v5.5h-5.5zM957.0 3344.0h5.5v5.5h-5.5zM962.5 3349.5h5.5v16.5h-5.5zM968.0 3366.0h5.5v5.5h-5.5zM973.5 3371.5h5.5v5.5h-5.5zM979.0 3371.5h5.5v5.5h-5.5zM984.5 3366.0h5.5v5.5h-5.5zM990.0 3360.5h5.5v5.5h-5.5zM995.5 3349.5h5.5v11.0h-5.5zM1001.0 3344.0h5.5v5.5h-5.5zM1006.5 3344.0h5.5v5.5h-5.5zM1012.0 3344.0h5.5v5.5h-5.5zM1017.5 3349.5h5.5v5.5h-5.5zM1023.0 3355.0h5.5v5.5h-5.5zM1028.5 3355.0h5.5v5.5h-5.5zM1034.0 3360.5h5.5v5.5h-5.5zM1039.5 3366.0h5.5v5.5h-5.5zM1045.0 3371.5h5.5v5.5h-5.5zM1050.5 3377.0h5.5v5.5h-5.5zM1056.0 3382.5h5.5v11.0h-5.5zM1061.5 3393.5h5.5v22.0h-5.5zM1067.0 3415.5h5.5v27.5h-5.5zM1072.5 3443.0h5.5v11.0h-5.5zM1078.0 3454.0h5.5v16.5h-5.5zM1083.5 3470.5h5.5v16.5h-5.5zM1089.0 3487.0h5.5v11.0h-5.5zM1094.5 3498.0h5.5v5.5h-5.5zM1100.0 3503.5h5.5v16.5h-5.5zM1105.5 3520.0h5.5v16.5h-5.5zM1111.0 3536.5h5.5v22.0h-5.5zM1116.5 3558.5h5.5v22.0h-5.5zM1122.0 3580.5h5.5v11.0h-5.5zM1127.5 3591.5h5.5v5.5h-5.5zM1133.0 3597.0h5.5v5.5h-5.5zM1138.5 3586.0h5.5v11.0h-5.5zM1144.0 3569.5h5.5v16.5h-5.5zM1149.5 3520.0h5.5v49.5h-5.5zM1155.0 3476.0h5.5v44.0h-5.5zM1160.5 3432.0h5.5v44.0h-5.5zM1166.0 3360.5h5.5v71.5h-5.5zM1171.5 3338.5h5.5v22.0h-5.5zM1177.0 3333.0h5.5v11.0h-5.5zM1182.5 3344.0h5.5v27.5h-5.5zM1188.0 3371.5h5.5v33.0h-5.5zM1193.5 3404.5h5.5v49.5h-5.5zM1199.0 3454.0h5.5v55.0h-5.5zM1204.5 3509.0h5.5v55.0h-5.5zM1210.0 3564.0h5.5v38.5h-5.5zM1215.5 3602.5h5.5v33.0h-5.5zM1221.0 3635.5h5.5v27.5h-5.5zM1226.5 3663.0h5.5v33.0h-5.5zM1232.0 3696.0h5.5v22.0h-5.5zM1237.5 3718.0h5.5v5.5h-5.5zM1243.0 3723.5h5.5v5.5h-5.5zM1248.5 3729.0h5.5v5.5h-5.5zM1254.0 3734.5h5.5v5.5h-5.5zM1259.5 3740.0h5.5v11.0h-5.5zM1265.0 3751.0h5.5v22.0h-5.5zM1270.5 3773.0h5.5v5.5h-5.5zM1276.0 3778.5h5.5v11.0h-5.5zM1281.5 3789.5h5.5v5.5h-5.5zM1287.0 3795.0h5.5v5.5h-5.5zM1292.5 3800.5h5.5v5.5h-5.5zM1298.0 3800.5h5.5v5.5h-5.5zM1303.5 3795.0h5.5v5.5h-5.5zM1309.0 3789.5h5.5v5.5h-5.5zM1314.5 3734.5h5.5v55.0h-5.5zM1320.0 3679.5h5.5v55.0h-5.5zM1325.5 3586.0h5.5v93.5h-5.5zM1331.0 3437.5h5.5v148.5h-5.5zM1336.5 3333.0h5.5v104.5h-5.5zM1342.0 3272.5h5.5v60.5h-5.5zM1347.5 3261.5h5.5v11.0h-5.5zM1353.0 3261.5h5.5v38.5h-5.5zM1358.5 3300.0h5.5v55.0h-5.5zM1364.0 3355.0h5.5v44.0h-5.5zM1369.5 3399.0h5.5v55.0h-5.5zM1375.0 3454.0h5.5v49.5h-5.5zM1380.5 3503.5h5.5v5.5h-5.5zM1386.0 3476.0h5.5v33.0h-5.5zM1391.5 3410.0h5.5v66.0h-5.5zM1397.0 3333.0h5.5v77.0h-5.5zM1402.5 3316.5h5.5v16.5h-5.5zM1408.0 3316.5h5.5v22.0h-5.5zM1413.5 3338.5h5.5v71.5h-5.5zM1419.0 3410.0h5.5v99.0h-5.5zM1424.5 3509.0h5.5v77.0h-5.5zM1430.0 3586.0h5.5v55.0h-5.5zM1435.5 3641.0h5.5v60.5h-5.5zM1441.0 3701.5h5.5v27.5h-5.5zM1446.5 3729.0h5.5v16.5h-5.5zM1452.0 3745.5h5.5v16.5h-5.5zM1457.5 3762.0h5.5v11.0h-5.5zM1463.0 3773.0h5.5v11.0h-5.5zM1468.5 3784.0h5.5v5.5h-5.5zM1474.0 3784.0h5.5v5.5h-5.5zM1479.5 3784.0h5.5v5.5h-5.5zM1485.0 3784.0h5.5v5.5h-5.5zM1490.5 3784.0h5.5v5.5h-5.5zM1496.0 3784.0h5.5v5.5h-5.5zM1501.5 3784.0h5.5v5.5h-5.5zM1507.0 3784.0h5.5v5.5h-5.5zM1512.5 3784.0h5.5v5.5h-5.5zM1518.0 3773.0h5.5v11.0h-5.5zM1523.5 3762.0h5.5v11.0h-5.5zM1529.0 3751.0h5.5v11.0h-5.5zM1534.5 3734.5h5.5v16.5h-5.5zM1540.0 3723.5h5.5v11.0h-5.5zM1545.5 3707.0h5.5v16.5h-5.5zM1551.0 3696.0h5.5v11.0h-5.5zM1556.5 3668.5h5.5v27.5h-5.5zM1562.0 3646.5h5.5v22.0h-5.5zM1567.5 3602.5h5.5v44.0h-5.5zM1573.0 3564.0h5.5v38.5h-5.5zM1578.5 3531.0h5.5v33.0h-5.5zM1584.0 3503.5h5.5v27.5h-5.5zM1589.5 3481.5h5.5v22.0h-5.5zM1595.0 3476.0h5.5v5.5h-5.5zM1600.5 3470.5h5.5v5.5h-5.5zM1606.0 3465.0h5.5v5.5h-5.5zM1611.5 3465.0h5.5v5.5h-5.5zM1617.0 3465.0h5.5v5.5h-5.5zM1622.5 3465.0h5.5v11.0h-5.5zM1628.0 3476.0h5.5v11.0h-5.5zM1633.5 3487.0h5.5v5.5h-5.5zM1639.0 3492.5h5.5v22.0h-5.5zM1644.5 3514.5h5.5v33.0h-5.5zM1650.0 3547.5h5.5v27.5h-5.5zM1655.5 3575.0h5.5v27.5h-5.5zM1661.0 3602.5h5.5v27.5h-5.5zM1666.5 3630.0h5.5v27.5h-5.5zM1672.0 3657.5h5.5v16.5h-5.5zM1677.5 3674.0h5.5v11.0h-5.5zM1683.0 3685.0h5.5v16.5h-5.5zM1688.5 3701.5h5.5v16.5h-5.5zM1694.0 3707.0h5.5v11.0h-5.5zM1699.5 3685.0h5.5v22.0h-5.5zM1705.0 3630.0h5.5v55.0h-5.5zM1710.5 3542.0h5.5v88.0h-5.5zM1716.0 3399.0h5.5v143.0h-5.5zM1721.5 3201.0h5.5v198.0h-5.5zM1727.0 3008.5h5.5v192.5h-5.5zM1732.5 2810.5h5.5v198.0h-5.5zM1738.0 2695.0h5.5v115.5h-5.5zM1743.5 2651.0h5.5v44.0h-5.5zM1749.0 2651.0h5.5v33.0h-5.5zM1754.5 2684.0h5.5v104.5h-5.5zM1760.0 2788.5h5.5v148.5h-5.5zM1765.5 2937.0h5.5v154.0h-5.5zM1771.0 3091.0h5.5v148.5h-5.5zM1776.5 3239.5h5.5v137.5h-5.5zM1782.0 3377.0h5.5v110.0h-5.5zM1787.5 3487.0h5.5v38.5h-5.5zM1793.0 3525.5h5.5v38.5h-5.5zM1798.5 3564.0h5.5v33.0h-5.5zM1804.0 3597.0h5.5v27.5h-5.5zM1809.5 3624.5h5.5v11.0h-5.5zM1815.0 3635.5h5.5v16.5h-5.5zM1820.5 3652.0h5.5v5.5h-5.5zM1826.0 3657.5h5.5v5.5h-5.5zM1831.5 3663.0h5.5v11.0h-5.5zM1837.0 3674.0h5.5v16.5h-5.5zM1842.5 3690.5h5.5v27.5h-5.5zM1848.0 3718.0h5.5v22.0h-5.5zM1853.5 3740.0h5.5v11.0h-5.5zM1859.0 3751.0h5.5v11.0h-5.5zM1864.5 3762.0h5.5v22.0h-5.5zM1870.0 3784.0h5.5v16.5h-5.5zM1875.5 3800.5h5.5v27.5h-5.5zM1881.0 3822.5h5.5v5.5h-5.5zM1886.5 3784.0h5.5v38.5h-5.5zM1892.0 3767.5h5.5v16.5h-5.5zM1897.5 3762.0h5.5v5.5h-5.5zM1903.0 3767.5h5.5v22.0h-5.5zM1908.5 3789.5h5.5v27.5h-5.5zM1914.0 3817.0h5.5v16.5h-5.5zM1919.5 3833.5h5.5v5.5h-5.5zM1925.0 3817.0h5.5v16.5h-5.5zM1930.5 3811.5h5.5v5.5h-5.5zM1936.0 3811.5h5.5v5.5h-5.5zM1941.5 3817.0h5.5v16.5h-5.5zM1947.0 3833.5h5.5v16.5h-5.5zM1952.5 3850.0h5.5v5.5h-5.5zM1958.0 3822.5h5.5v27.5h-5.5zM1963.5 3773.0h5.5v49.5h-5.5zM1969.0 3723.5h5.5v49.5h-5.5zM1974.5 3674.0h5.5v49.5h-5.5zM1980.0 3674.0h5.5v5.5h-5.5zM1985.5 3674.0h5.5v11.0h-5.5zM1991.0 3685.0h5.5v22.0h-5.5zM1996.5 3685.0h5.5v22.0h-5.5zM2002.0 3652.0h5.5v33.0h-5.5zM2007.5 3619.0h5.5v33.0h-5.5zM2013.0 3608.0h5.5v16.5h-5.5z" fill="#ec3b3e" shape-rendering="crispEdges"/>
<line x1="76.0" y1="2207.9" x2="76.0" y2="4018.5" stroke="#000" stroke-width="4.8"/>
<line x1="2019.8" y1="2207.9" x2="2019.8" y2="4017.0" stroke="#000" stroke-width="4.8"/>
<line x1="73.6" y1="2210.3" x2="2022.2" y2="2210.3" stroke="#000" stroke-width="4.8"/>
<line x1="73.6" y1="4014.6" x2="2022.2" y2="4014.6" stroke="#000" stroke-width="4.8"/>
<line x1="70.0" y1="2619" x2="76.0" y2="2619" stroke="#000" stroke-width="5"/>
<line x1="70.0" y1="3028" x2="76.0" y2="3028" stroke="#000" stroke-width="5"/>
<line x1="70.0" y1="3438" x2="76.0" y2="3438" stroke="#000" stroke-width="5"/>
<line x1="406.6" y1="3982" x2="406.6" y2="4014.6" stroke="#000" stroke-width="1.6"/>
<line x1="729.7" y1="3982" x2="729.7" y2="4014.6" stroke="#000" stroke-width="1.6"/>
<line x1="1055.3" y1="3982" x2="1055.3" y2="4014.6" stroke="#000" stroke-width="1.6"/>
<line x1="1378.4" y1="3982" x2="1378.4" y2="4014.6" stroke="#000" stroke-width="1.6"/>
<line x1="1699.4" y1="3982" x2="1699.4" y2="4014.6" stroke="#000" stroke-width="1.6"/>
<line x1="244.3" y1="3996.5" x2="244.3" y2="4014.6" stroke="#000" stroke-width="1.6"/>
<line x1="569.4" y1="3996.5" x2="569.4" y2="4014.6" stroke="#000" stroke-width="1.6"/>
<line x1="892.4" y1="3996.5" x2="892.4" y2="4014.6" stroke="#000" stroke-width="1.6"/>
<line x1="1216.4" y1="3996.5" x2="1216.4" y2="4014.6" stroke="#000" stroke-width="1.6"/>
<line x1="1541.3" y1="3996.5" x2="1541.3" y2="4014.6" stroke="#000" stroke-width="1.6"/>
<line x1="1860" y1="3996.5" x2="1860" y2="4014.6" stroke="#000" stroke-width="1.6"/>
<line x1="1574.6" y1="3892.8" x2="1574.6" y2="3903.4" stroke="#000" stroke-width="1.4"/>
<line x1="1767" y1="2274" x2="1852" y2="2274" stroke="#000" stroke-width="2.4"/>
<line x1="1771" y1="2363" x2="1852" y2="2363" stroke="#d62839" stroke-width="2.4"/>
<text transform="translate(1871.31 2295.00) scale(1.0000 1)" font-size="59.05" font-weight="normal" fill="#000">1</text>
<text transform="translate(1875.88 2392.30) scale(1.0025 1)" font-size="56.34" font-weight="normal" fill="#d62839">2</text>
<text transform="translate(16.44 2275.30) scale(0.9575 1)" font-size="50.47" font-weight="bold" fill="#000">D</text>
<text transform="translate(51.91 3294.65) rotate(-90) scale(1.1003 1)" font-size="49.05" font-weight="bold" fill="#000">ABSORBANCE</text>
<text transform="translate(49.49 4063.13) scale(1.0313 1)" font-size="47.49" font-weight="bold" fill="#000">950</text>
<text transform="translate(354.87 4066.93) scale(1.0482 1)" font-size="47.21" font-weight="bold" fill="#000">900</text>
<text transform="translate(692.39 4066.93) scale(1.0465 1)" font-size="47.21" font-weight="bold" fill="#000">850</text>
<text transform="translate(1010.09 4066.73) scale(1.0465 1)" font-size="47.21" font-weight="bold" fill="#000">800</text>
<text transform="translate(1333.51 4067.52) scale(1.0253 1)" font-size="48.06" font-weight="bold" fill="#000">750</text>
<text transform="translate(1664.47 4065.51) scale(0.9794 1)" font-size="48.76" font-weight="bold" fill="#000">700</text>
<text transform="translate(1979.17 4069.51) scale(1.0038 1)" font-size="48.62" font-weight="bold" fill="#000">650</text>
<line x1="1592.5" y1="3352" x2="1592.5" y2="3458" stroke="#000" stroke-width="5.2" stroke-dasharray="5 6.8"/>
<polygon points="863.0,3408.0 868.0,3408.0 868.0,3415.0 863.0,3415.0" fill="#000"/>
<polygon points="1647.2,3435.9 1651.9,3435.9 1651.9,3469.8 1647.2,3470.6 1647.2,3480.1 1636.9,3480.1 1636.1,3487.2 1631.4,3487.2 1631.4,3476.1 1626.4,3475.4 1626.7,3470.6 1631.4,3469.8 1631.4,3458.8 1636.9,3458.0 1636.9,3453.3 1641.7,3452.5 1642.1,3440.7 1647.2,3439.9" fill="#000" shape-rendering="crispEdges"/>
<text transform="translate(920.80 4160.20) scale(0.9828 1)" font-size="49.02" font-weight="bold">Wavenumber,</text>
<text transform="translate(1236.90 4160.20) scale(0.9710 1)" font-size="49.02" font-weight="bold">cm</text>
<text transform="translate(1302.41 4142.50) scale(0.9706 1)" font-size="51.35" font-weight="bold">-1</text>
<text transform="translate(1052.82 4248.98) scale(1.0433 1)" font-size="61.74" font-weight="bold" fill="#000">c</text>
</svg>
</body>
</html>
